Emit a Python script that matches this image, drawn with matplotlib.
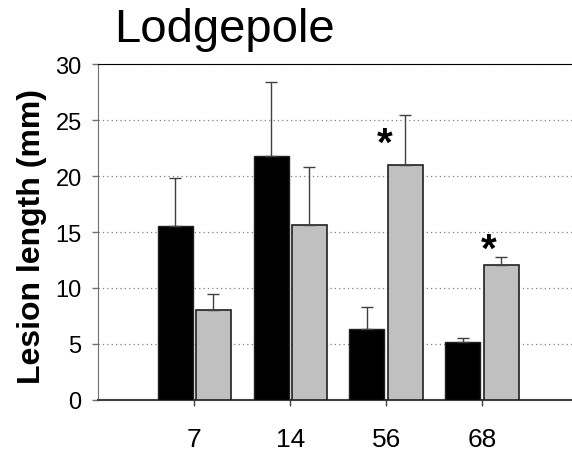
import matplotlib.pyplot as plt
import numpy as np

plt.rcParams['font.family'] = ['Liberation Sans', 'DejaVu Sans']

days = ['7', '14', '56', '68']
control_mean = [15.5, 21.8, 6.3, 5.2]
control_err = [4.3, 6.6, 2.0, 0.3]
treated_mean = [8.05, 15.6, 21.0, 12.05]
treated_err = [1.4, 5.2, 4.5, 0.7]
signif = [False, False, True, True]

x = np.arange(1, len(days) + 1)
w = 0.365

fig = plt.figure(figsize=(5.72, 4.52), dpi=100)
ax = fig.add_axes([0.172, 0.1135, 0.83, 0.742])

err_kw = dict(ecolor='#404040', elinewidth=1.0, capsize=4, capthick=1.0)
ax.bar(x - 0.2, control_mean, w, color='black', edgecolor='#202020', linewidth=1,
       yerr=[np.zeros(4), control_err], error_kw=err_kw, zorder=3)
ax.bar(x + 0.2, treated_mean, w, color='#c0c0c0', edgecolor='#202020', linewidth=1.2,
       yerr=[np.zeros(4), treated_err], error_kw=err_kw, zorder=3)

# significance markers: beside a tall error bar, or right on top of a short one
for xi, m, e, s in zip(x, treated_mean, treated_err, signif):
    if not s:
        continue
    if e > 2:
        ax.text(xi - 0.01, m + e - 4.3, '*', ha='center', va='bottom',
                fontsize=29, fontweight='bold')
    else:
        ax.text(xi + 0.07, m + e - 1.0, '*', ha='center', va='bottom',
                fontsize=29, fontweight='bold')

ax.set_xlim(0, 4.95)
ax.set_ylim(0, 30)
ax.set_yticks(range(0, 31, 5))
ax.set_xticks(x)
ax.set_xticklabels(days)
ax.yaxis.grid(True, linestyle=(0, (1, 2.5)), color='#808080', linewidth=0.9, zorder=0)

ax.spines['right'].set_visible(False)
ax.spines['top'].set_color('black')
ax.spines['left'].set_color('#707070')
ax.spines['bottom'].set_color('#404040')
ax.spines['bottom'].set_linewidth(1.5)
ax.tick_params(axis='y', length=4, width=1, color='#707070', labelsize=17, pad=8)
ax.tick_params(axis='x', length=4, width=1, color='#404040', labelsize=19, pad=16)

fig.text(0.392, 0.934, 'Lodgepole', ha='center', va='center', fontsize=34)
fig.text(0.056, 0.476, 'Lesion length (mm)', rotation=90, ha='center', va='center',
         fontsize=23, fontweight='bold')

fig.savefig('out.png', dpi=100)
